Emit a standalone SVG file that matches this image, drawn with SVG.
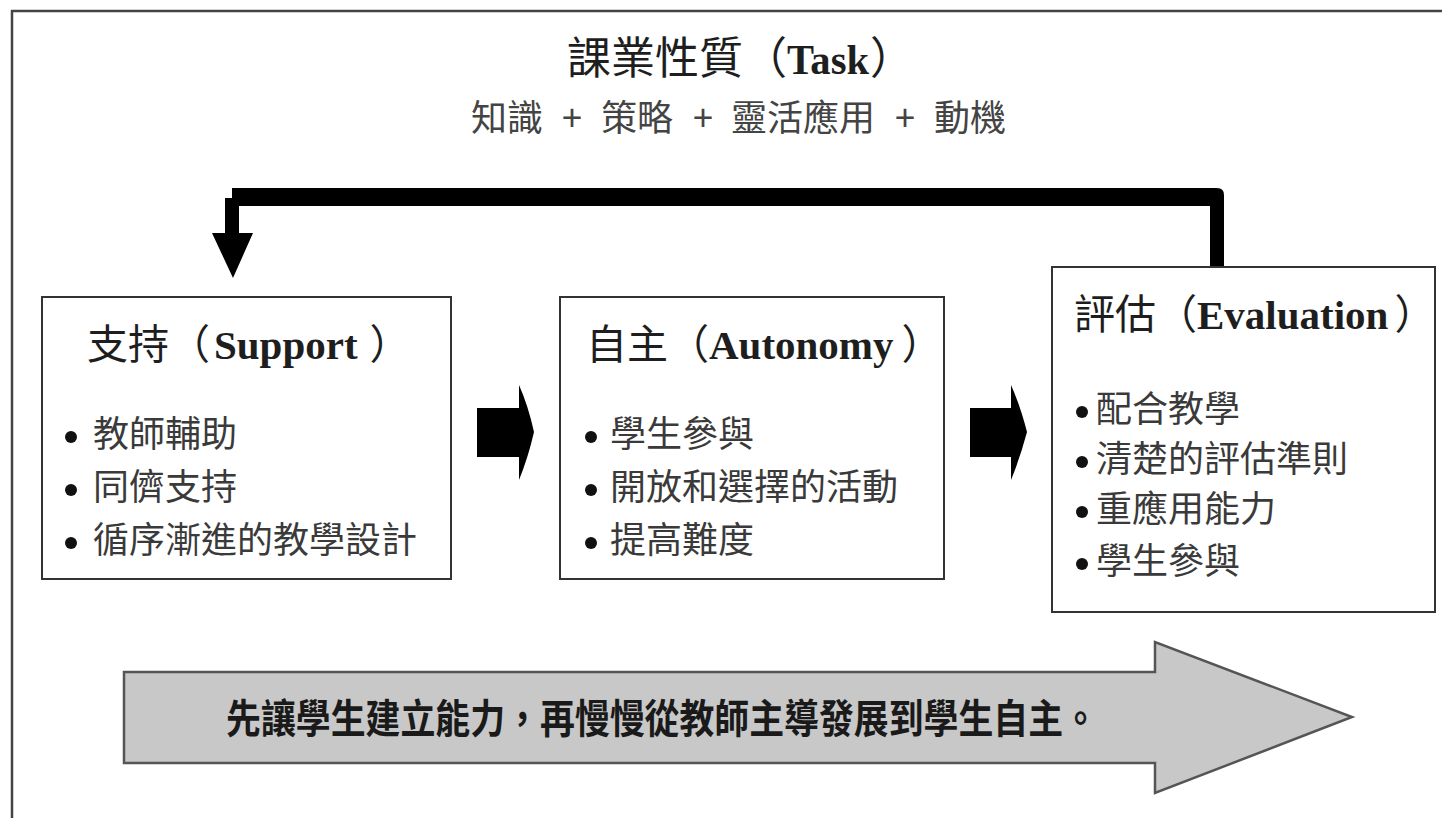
<svg xmlns="http://www.w3.org/2000/svg" width="1442" height="818" viewBox="0 0 1442 818">
<style>
.cjk{font-family:"Noto Sans CJK TC","Noto Sans CJK SC",sans-serif;}
.en{font-family:"Liberation Serif","Times New Roman",serif;font-weight:bold;}
.hd{font-size:41px;fill:#1e1e1e;}
.body{font-size:36px;fill:#3a3a3a;}
.box{fill:#ffffff;stroke:#333333;stroke-width:2;}
.blk{fill:#000000;}
.dot{fill:#111111;}
</style>
<rect x="0" y="0" width="1442" height="818" fill="#ffffff"/>
<path d="M12,818 L12,11 L1442,11" fill="none" stroke="#444444" stroke-width="2.5"/>

<g id="title">
<text class="cjk" x="567" y="74" font-size="44" fill="#1e1e1e">課業性質（<tspan class="en" font-size="42" textLength="82" lengthAdjust="spacingAndGlyphs">Task</tspan><tspan dx="1">）</tspan></text>
<text class="cjk" y="131" font-size="36" fill="#444444"><tspan x="471">知識</tspan><tspan x="562">+</tspan><tspan x="601">策略</tspan><tspan x="693">+</tspan><tspan x="731">靈活應用</tspan><tspan x="895">+</tspan><tspan x="934">動機</tspan></text>
</g>

<g id="connectors">
<path class="blk" d="M225,198 L232,198 L232,188 L1217,188 Q1224,188 1224,195 L1224,268 L1210,268 L1210,206 L239,206 L239,233 L253,233 L233,278 L212,233 L225,233 Z"/>
<path class="blk" d="M477,408 L519,408 L519,385 Q528,405 534,432 Q528,458 519,480 L519,457 L477,457 Z"/>
<path class="blk" d="M970,408 L1011,408 L1011,385 Q1020,405 1027,432 Q1020,458 1011,480 L1011,457 L970,457 Z"/>
</g>

<g id="support">
<rect class="box" x="42" y="297" width="409" height="282"/>
<text class="cjk hd" x="87" y="359">支持（<tspan class="en" dx="4">Support</tspan><tspan dx="12">）</tspan></text>
<circle class="dot" cx="71" cy="437" r="6"/>
<circle class="dot" cx="71" cy="490" r="6"/>
<circle class="dot" cx="71" cy="543" r="6"/>
<text class="cjk body" x="93" y="447">教師輔助</text>
<text class="cjk body" x="93" y="500">同儕支持</text>
<text class="cjk body" x="93" y="553">循序漸進的教學設計</text>
</g>

<g id="autonomy">
<rect class="box" x="560" y="297" width="384" height="282"/>
<text class="cjk hd" x="586" y="359">自主（<tspan class="en">Autonomy</tspan><tspan dx="8">）</tspan></text>
<circle class="dot" cx="591" cy="437" r="6"/>
<circle class="dot" cx="591" cy="490" r="6"/>
<circle class="dot" cx="591" cy="543" r="6"/>
<text class="cjk body" x="610" y="447">學生參與</text>
<text class="cjk body" x="610" y="500">開放和選擇的活動</text>
<text class="cjk body" x="610" y="553">提高難度</text>
</g>

<g id="evaluation">
<rect class="box" x="1052" y="267" width="383" height="345"/>
<text class="cjk hd" x="1074" y="329">評估（<tspan class="en">Evaluation</tspan><tspan dx="6">）</tspan></text>
<circle class="dot" cx="1082" cy="412" r="6"/>
<circle class="dot" cx="1082" cy="462" r="6"/>
<circle class="dot" cx="1082" cy="512" r="6"/>
<circle class="dot" cx="1082" cy="564" r="6"/>
<text class="cjk body" x="1096" y="422">配合教學</text>
<text class="cjk body" x="1096" y="472">清楚的評估準則</text>
<text class="cjk body" x="1096" y="522">重應用能力</text>
<text class="cjk body" x="1096" y="574">學生參與</text>
</g>

<g id="progress">
<path d="M124,672 L1155,672 L1155,642 L1352,717 L1155,793 L1155,763 L124,763 Z" fill="#c8c8c8" stroke="#555555" stroke-width="2.5"/>
<text class="cjk" x="226" y="733" font-size="40" font-weight="bold" fill="#1a1a1a" textLength="872" lengthAdjust="spacingAndGlyphs">先讓學生建立能力，再慢慢從教師主導發展到學生自主。</text>
</g>
</svg>
